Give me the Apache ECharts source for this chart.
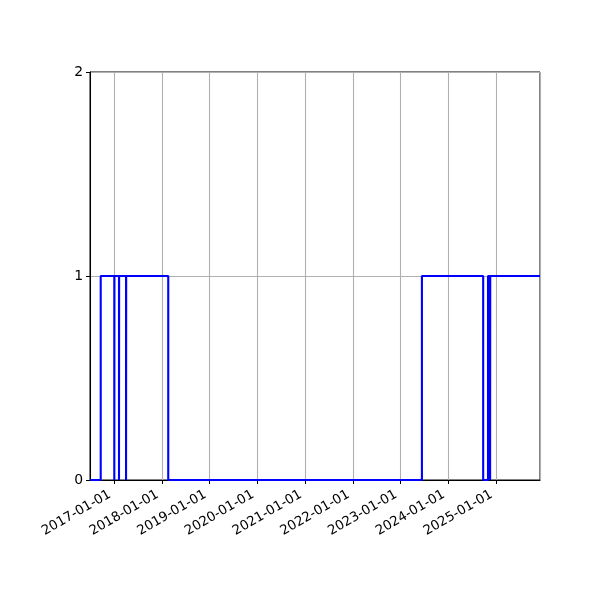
<!DOCTYPE html>
<html>
<head>
<meta charset="utf-8">
<script src="https://cdn.jsdelivr.net/npm/echarts@6/dist/echarts.min.js"></script>
<style>
html,body{margin:0;padding:0;background:#fff;}
#chart{width:600px;height:600px;}
</style>
</head>
<body>
<div id="chart"></div>
<script>
// Step series: value holds from each date until the next date
const changeDates = ['2016-06-29','2016-09-19','2017-01-01','2017-01-02','2017-02-06','2017-02-07',
  '2017-04-01','2017-04-02','2018-02-18','2023-06-14','2024-09-25','2024-11-01','2024-11-17','2024-11-18','2025-12-04'];
const stateValues = [0,1,0,1,0,1,0,1,0,1,0,1,0,1,1];
const xRange = ['2016-06-29','2025-12-04'];
const yTicks = [0,1,2];

const seriesData = changeDates.map((d,i)=>[d, stateValues[i]]);

const chart = echarts.init(document.getElementById('chart'), null, {renderer:'canvas'});
const font = 'DejaVu Sans';
chart.setOption({
  animation:false,
  backgroundColor:'#fff',
  grid:{left:90,right:60,top:72,bottom:120,show:true,borderColor:'#000',borderWidth:1,backgroundColor:'transparent'},
  xAxis:{
    type:'time',
    min:xRange[0], max:xRange[1],
    splitNumber:10,
    axisLine:{show:true,lineStyle:{color:'#000',width:1}},
    axisTick:{show:true,length:4,lineStyle:{color:'#000',width:1}},
    minorTick:{show:false},
    axisLabel:{rotate:30,margin:11,padding:[0,5,0,0],color:'#000',fontFamily:font,fontSize:13.3,
      formatter:'{yyyy}-{MM}-{dd}',hideOverlap:false,showMinLabel:false,showMaxLabel:false},
    splitLine:{show:true,lineStyle:{color:'#b0b0b0',width:1.1}}
  },
  yAxis:{
    type:'value',min:yTicks[0],max:yTicks[yTicks.length-1],interval:1,
    axisLine:{show:true,lineStyle:{color:'#000',width:1}},
    axisTick:{show:true,length:4,lineStyle:{color:'#000',width:1}},
    axisLabel:{margin:7,color:'#000',fontFamily:font,fontSize:13.9},
    splitLine:{show:true,lineStyle:{color:'#b0b0b0',width:1.1}}
  },
  series:[{
    type:'line',step:'end',data:seriesData,showSymbol:false,symbol:'none',
    lineStyle:{color:'#0000ff',width:2.1},clip:true
  }]
});
</script>
</body>
</html>
